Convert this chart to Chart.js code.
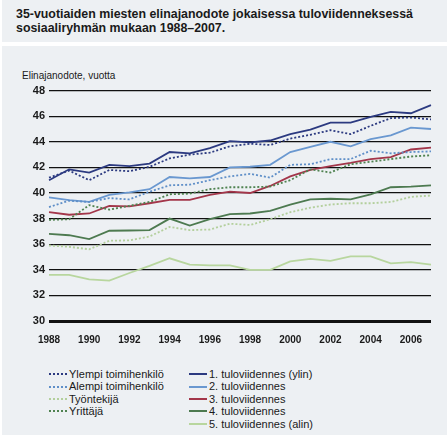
<!DOCTYPE html>
<html lang="fi">
<head>
  <meta charset="UTF-8" />
  <title>Elinajanodote tuloviidenneksittäin</title>
  <script src="https://cdn.jsdelivr.net/npm/chart.js"></script>
  <style>
    body {
      margin: 0;
      width: 447px;
      height: 438px;
      background: #ffffff;
      position: relative;
      overflow: hidden;
      font-family: "Liberation Sans", Arial, sans-serif;
      color: #1a1a1a;
    }
    .panel {
      position: absolute;
      left: 2px;
      background: #edf0f3;
    }
    #titlePanel { top: 0; width: 445px; height: 42px; }
    #chartPanel { top: 46px; width: 445px; height: 389px; }
    h1 {
      position: absolute;
      left: 16px;
      top: 7px;
      margin: 0;
      font-size: 13.5px;
      line-height: 14px;
      font-weight: bold;
      white-space: nowrap;
      transform-origin: 0 0;
    }
    .ylabel {
      position: absolute;
      left: 22px;
      top: 70px;
      font-size: 10px;
    }
    #wrap {
      position: absolute;
      left: 0;
      top: 80px;
      width: 447px;
      height: 270px;
    }
    .legend {
      position: absolute;
      font-size: 11px;
      line-height: 12.4px;
    }
    .legend div { white-space: nowrap; }
    .legend span {
      display: inline-block;
      width: 18px;
      vertical-align: middle;
      margin-right: 2px;
      margin-top: -2px;
    }
  </style>
</head>
<body>
  <div class="panel" id="titlePanel"></div>
  <div class="panel" id="chartPanel"></div>
  <h1 id="title">35-vuotiaiden miesten elinajanodote jokaisessa tuloviidenneksessä<br>sosiaaliryhmän mukaan 1988–2007.</h1>
  <div class="ylabel">Elinajanodote, vuotta</div>
  <div id="wrap"><canvas id="chart"></canvas></div>
  <div class="legend" id="legLeft" style="left:49px; top:368px;"></div>
  <div class="legend" id="legRight" style="left:189px; top:368px;"></div>

  <script>
    const years = [1988, 1989, 1990, 1991, 1992, 1993, 1994, 1995, 1996, 1997,
                   1998, 1999, 2000, 2001, 2002, 2003, 2004, 2005, 2006, 2007];

    // sosiaaliryhmät (katkoviiva)
    const ylempi = [41.2, 41.75, 41.0, 41.8, 41.7, 42.05, 42.7, 43.0, 43.15, 43.65,
                    43.85, 43.75, 44.25, 44.55, 44.9, 44.6, 45.25, 45.85, 45.9, 45.75];
    const alempi = [38.9, 39.4, 39.3, 39.6, 39.5, 40.1, 40.6, 40.65, 41.0, 41.3,
                    41.5, 41.2, 42.2, 42.25, 42.65, 42.65, 43.3, 43.1, 43.2, 43.25];
    const tyontekija = [35.9, 35.8, 35.6, 36.27, 36.3, 36.6, 37.35, 37.1, 37.15, 37.6,
                        37.5, 37.95, 38.5, 38.85, 39.1, 39.2, 39.2, 39.3, 39.7, 39.8];
    const yrittaja = [37.9, 37.95, 39.05, 38.7, 39.0, 39.3, 39.9, 39.95, 40.3, 40.45,
                      40.45, 40.5, 41.0, 41.85, 41.6, 42.25, 42.45, 42.65, 42.85, 42.95];

    // tuloviidennekset (yhtenäinen viiva)
    const q1 = [41.0, 41.85, 41.6, 42.2, 42.1, 42.3, 43.2, 43.1, 43.5, 44.05,
                43.95, 44.1, 44.6, 44.95, 45.5, 45.5, 45.95, 46.33, 46.23, 46.87];
    const q2 = [39.65, 39.45, 39.3, 39.85, 40.05, 40.3, 41.25, 41.15, 41.25, 42.0,
                42.05, 42.2, 43.2, 43.6, 44.0, 43.65, 44.2, 44.5, 45.1, 45.0];
    const q3 = [38.5, 38.3, 38.4, 39.0, 38.95, 39.2, 39.47, 39.47, 39.85, 40.1,
                40.0, 40.55, 41.3, 41.8, 42.1, 42.35, 42.65, 42.8, 43.4, 43.55];
    const q4 = [36.8, 36.7, 36.4, 37.05, 37.07, 37.1, 38.0, 37.45, 37.95, 38.35,
                38.4, 38.6, 39.1, 39.5, 39.55, 39.5, 39.9, 40.45, 40.5, 40.6];
    const q5 = [33.6, 33.6, 33.25, 33.15, 33.75, 34.3, 34.9, 34.4, 34.35, 34.35,
                34.0, 34.0, 34.65, 34.85, 34.7, 35.05, 35.05, 34.5, 34.6, 34.4];

    const yTicks = [30, 32, 34, 36, 38, 40, 42, 44, 46, 48];

    const FONT = '"Liberation Sans", Arial, sans-serif';

    const groups = [
      { label: 'Ylempi toimihenkilö', data: ylempi, color: '#2c3a80' },
      { label: 'Alempi toimihenkilö', data: alempi, color: '#5f8fc8' },
      { label: 'Työntekijä', data: tyontekija, color: '#b3cf9c' },
      { label: 'Yrittäjä', data: yrittaja, color: '#4f8250' }
    ];
    const quintiles = [
      { label: '1. tuloviidennes (ylin)', data: q1, color: '#2c3a80' },
      { label: '2. tuloviidennes', data: q2, color: '#6a98d0' },
      { label: '3. tuloviidennes', data: q3, color: '#a3364a' },
      { label: '4. tuloviidennes', data: q4, color: '#4d7a50' },
      { label: '5. tuloviidennes (alin)', data: q5, color: '#b8d69e' }
    ];

    const datasets = [];
    groups.forEach(g => datasets.push({
      label: g.label, data: g.data, borderColor: g.color, borderWidth: 1.8,
      borderDash: [2, 2], pointRadius: 0, tension: 0, fill: false
    }));
    quintiles.forEach(q => datasets.push({
      label: q.label, data: q.data, borderColor: q.color, borderWidth: 1.8,
      pointRadius: 0, tension: 0, fill: false
    }));

    new Chart(document.getElementById('chart'), {
      type: 'line',
      data: { labels: years, datasets: datasets },
      options: {
        responsive: true,
        maintainAspectRatio: false,
        animation: false,
        layout: { padding: { top: 9.5, right: 16, bottom: 0, left: 0 } },
        plugins: { legend: { display: false }, tooltip: { enabled: false } },
        scales: {
          x: {
            offset: false,
            grid: { display: false },
            border: { display: false },
            afterFit: s => { s.height = 29; },
            ticks: {
              autoSkip: false,
              maxRotation: 0,
              padding: 5,
              color: '#1a1a1a',
              font: { family: FONT, size: 10, weight: 'bold' },
              callback: function (v, i) {
                const y = years[i];
                return (y % 2 === 0 && y < 2007) ? String(y) : '';
              }
            }
          },
          y: {
            min: 30,
            max: 48,
            afterFit: s => { s.width = 49; },
            afterBuildTicks: s => { s.ticks = yTicks.map(v => ({ value: v })); },
            border: { display: false },
            grid: {
              drawTicks: false,
              color: '#111111',
              lineWidth: c => (c.tick && c.tick.value === 30 ? 3 : 1.2)
            },
            ticks: {
              padding: 4,
              color: '#1a1a1a',
              font: { family: FONT, size: 11, weight: 'bold' }
            }
          }
        }
      }
    });

    function fillLegend(el, items, dashed) {
      items.forEach(it => {
        const row = document.createElement('div');
        const sw = document.createElement('span');
        sw.style.borderTop = dashed ? '2px dotted ' + it.color : '2px solid ' + it.color;
        row.appendChild(sw);
        row.appendChild(document.createTextNode(it.label));
        el.appendChild(row);
      });
    }
    fillLegend(document.getElementById('legLeft'), groups, true);
    fillLegend(document.getElementById('legRight'), quintiles, false);

    // squeeze the title to the condensed width of the original
    const title = document.getElementById('title');
    const w = title.scrollWidth;
    if (w > 397) title.style.transform = 'scaleX(' + (397 / w) + ')';
  </script>
</body>
</html>
